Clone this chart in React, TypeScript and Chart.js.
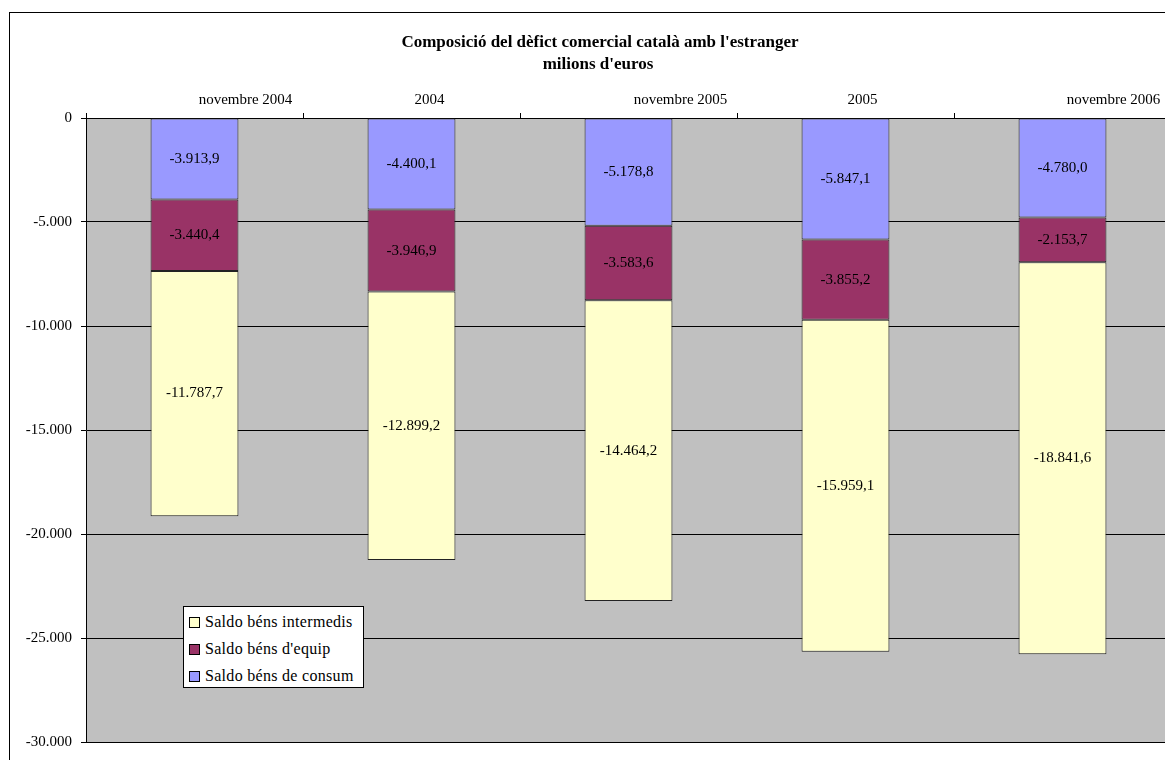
import React, { useEffect, useRef } from 'react';
import { Chart, registerables } from 'chart.js';

Chart.register(...registerables);

const categories = ['novembre 2004', '2004', 'novembre 2005', '2005', 'novembre 2006'];
const consum = [-3913.9, -4400.1, -5178.8, -5847.1, -4780.0];
const equip = [-3440.4, -3946.9, -3583.6, -3855.2, -2153.7];
const intermedis = [-11787.7, -12899.2, -14464.2, -15959.1, -18841.6];
const seriesNames = ['Saldo béns de consum', "Saldo béns d'equip", 'Saldo béns intermedis'];
const seriesColors = ['#9999FF', '#993366', '#FFFFCC'];
const yMin = -30000;
const yMax = 0;
const yStep = 5000;
const titleLines = ["Composició del dèfict comercial català amb l'estranger", "milions d'euros"];

// style: horizontal shift of each top category label relative to its bar
const labelShift = [51, 18, 52, 17, 51];

const FONT = "'Liberation Serif', 'Times New Roman', serif";

function groupThousands(s: string): string {
  return s.replace(/\B(?=(\d{3})+(?!\d))/g, '.');
}
function fmtInt(v: number): string {
  const a = groupThousands(String(Math.abs(Math.round(v))));
  return (v < 0 ? '-' : '') + a;
}
function fmt1(v: number): string {
  const s = Math.abs(v).toFixed(1);
  const [i, d] = s.split('.');
  return (v < 0 ? '-' : '') + groupThousands(i) + ',' + d;
}

const decorPlugin = {
  id: 'decor',
  beforeDraw(chart: any) {
    const { ctx, chartArea } = chart;
    ctx.save();
    ctx.fillStyle = '#ffffff';
    ctx.fillRect(0, 0, chart.width, chart.height);
    ctx.fillStyle = '#C0C0C0';
    ctx.fillRect(chartArea.left, chartArea.top, chartArea.right - chartArea.left, chartArea.bottom - chartArea.top);
    ctx.strokeStyle = '#000';
    ctx.lineWidth = 1;
    ctx.strokeRect(9.5, 12.5, chart.width + 50, chart.height + 50);
    ctx.restore();
  },
  afterDatasetsDraw(chart: any) {
    const { ctx } = chart;
    ctx.save();
    ctx.font = `15px ${FONT}`;
    ctx.fillStyle = '#000';
    ctx.textAlign = 'center';
    ctx.textBaseline = 'middle';
    chart.data.datasets.forEach((ds: any, di: number) => {
      const meta = chart.getDatasetMeta(di);
      meta.data.forEach((bar: any, i: number) => {
        const y = (bar.y + bar.base) / 2;
        ctx.fillText(fmt1(ds.data[i]), bar.x, y);
      });
    });
    ctx.restore();
  },
  afterDraw(chart: any) {
    const { ctx } = chart;
    const xs = chart.scales.x;
    ctx.save();
    ctx.fillStyle = '#000';
    ctx.textAlign = 'center';
    ctx.textBaseline = 'middle';
    ctx.font = `15px ${FONT}`;
    categories.forEach((c, i) => {
      ctx.fillText(c, xs.getPixelForValue(i) + labelShift[i], 100);
    });
    ctx.font = `bold 17px ${FONT}`;
    ctx.fillText(titleLines[0], 600, 43);
    ctx.fillText(titleLines[1], 598, 65);
    ctx.restore();
  },
};

export default function App() {
  const ref = useRef<HTMLCanvasElement | null>(null);

  useEffect(() => {
    if (!ref.current) return;
    const chart = new Chart(ref.current, {
      type: 'bar',
      data: {
        labels: categories,
        datasets: [
          { label: seriesNames[0], data: consum, backgroundColor: seriesColors[0] },
          { label: seriesNames[1], data: equip, backgroundColor: seriesColors[1] },
          { label: seriesNames[2], data: intermedis, backgroundColor: seriesColors[2] },
        ].map((d) => ({
          ...d,
          borderColor: '#222',
          borderWidth: 1,
          borderSkipped: false,
          barPercentage: 0.405,
          categoryPercentage: 1,
        })),
      },
      options: {
        responsive: false,
        devicePixelRatio: 1,
        animation: false,
        layout: { padding: { left: 0, top: 0, right: 14, bottom: 18 } },
        plugins: {
          legend: { display: false },
          title: { display: false },
          tooltip: { enabled: false },
        },
        scales: {
          x: {
            position: 'top',
            stacked: true,
            offset: true,
            afterFit: (s: any) => { s.height = 118; },
            grid: {
              offset: true,
              drawOnChartArea: false,
              drawTicks: true,
              tickLength: 5,
              color: '#000',
              tickColor: '#000',
            },
            border: { display: true, color: '#000', width: 1 },
            ticks: { display: false },
          },
          y: {
            stacked: true,
            min: yMin,
            max: yMax,
            afterFit: (s: any) => { s.width = 86; },
            grid: {
              color: '#000',
              tickColor: '#000',
              lineWidth: 1,
              drawTicks: true,
              tickLength: 5,
            },
            border: { display: true, color: '#000', width: 1 },
            ticks: {
              stepSize: yStep,
              padding: 9,
              color: '#000',
              font: { family: FONT, size: 15 },
              callback: (v: any) => fmtInt(Number(v)),
            },
          },
        },
      } as any,
      plugins: [decorPlugin],
    });
    return () => chart.destroy();
  }, []);

  const legendOrder = [2, 1, 0];

  return (
    <div style={{ position: 'absolute', left: 0, top: 0, width: 1165, height: 760, overflow: 'hidden', background: '#fff' }}>
      <canvas ref={ref} width={1185} height={760} style={{ display: 'block', width: 1185, height: 760 }} />
      <div
        style={{
          position: 'absolute',
          left: 183,
          top: 606,
          width: 179,
          height: 80,
          border: '1px solid #000',
          background: '#fff',
          fontFamily: FONT,
          fontSize: 16,
          color: '#000',
          boxSizing: 'content-box',
        }}
      >
        {legendOrder.map((si, k) => (
          <div key={si} style={{ position: 'absolute', left: 5, top: 6 + k * 27, height: 18, display: 'flex', alignItems: 'center', whiteSpace: 'nowrap' }}>
            <span style={{ display: 'inline-block', width: 9, height: 9, border: '1px solid #000', background: seriesColors[si], marginRight: 5 }} />
            <span style={{ letterSpacing: 0.3 }}>{seriesNames[si]}</span>
          </div>
        ))}
      </div>
    </div>
  );
}
